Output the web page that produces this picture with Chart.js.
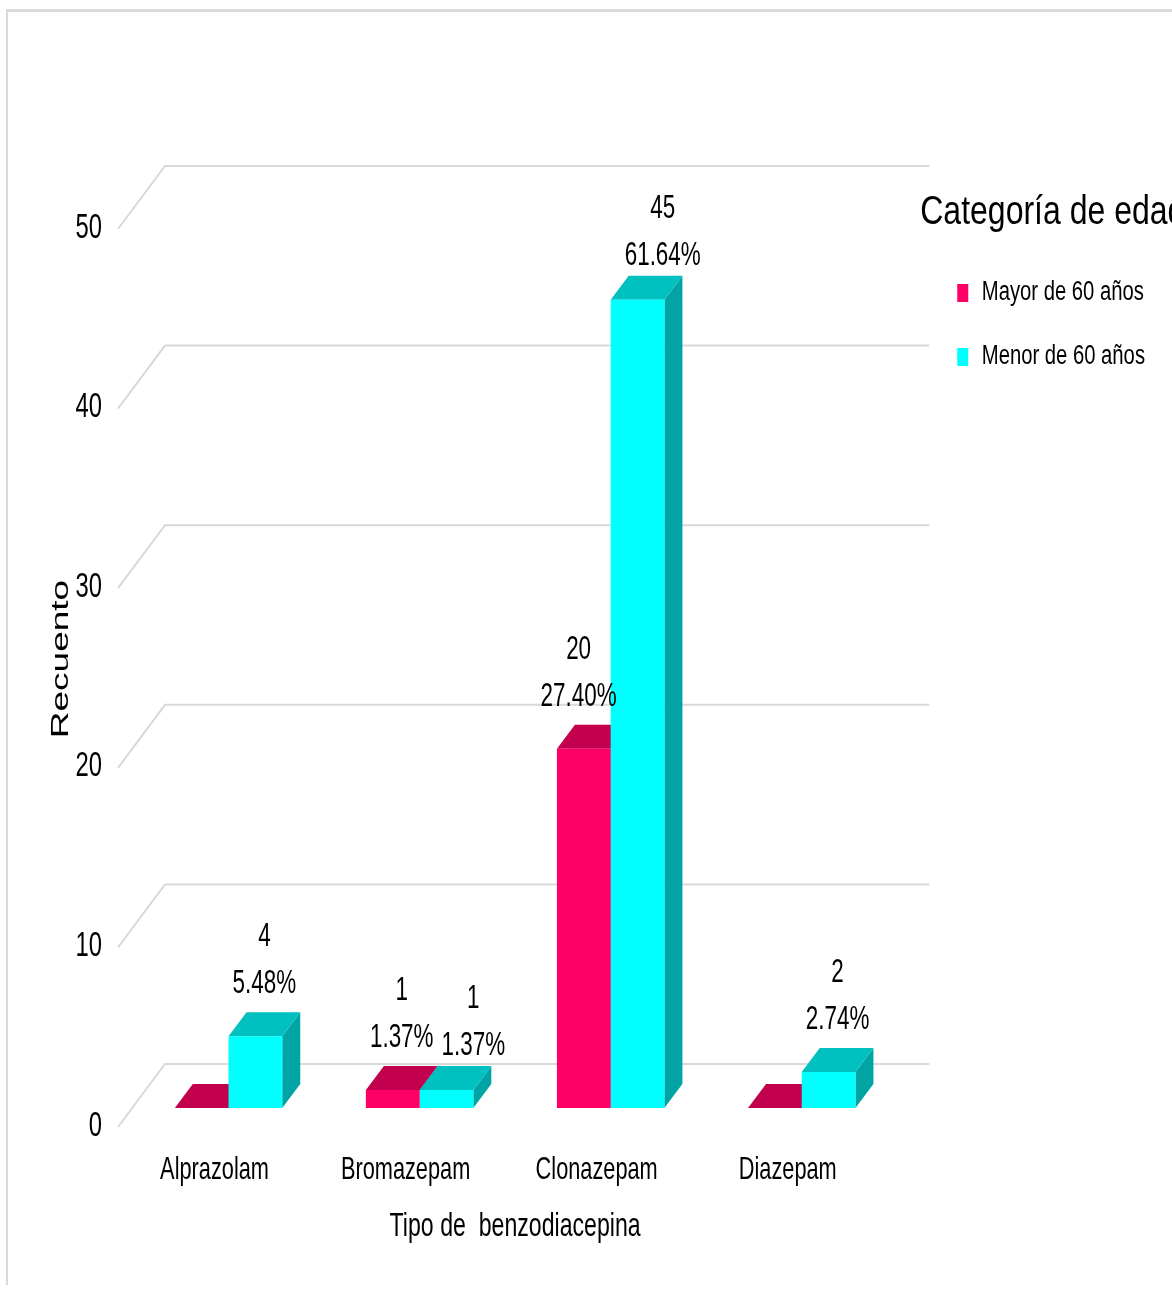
<!DOCTYPE html>
<html><head><meta charset="utf-8">
<script src="https://cdn.jsdelivr.net/npm/chart.js@4.4.1/dist/chart.umd.min.js"></script>
<style>
html,body{margin:0;padding:0;background:#fff;overflow:hidden}
#wrap{position:relative;width:1172px;height:1293px}
#frame{position:absolute;left:6px;top:9px;right:-5px;bottom:8px;border-top:3px solid #dadada;border-left:2px solid #dadada}
canvas{position:absolute;left:0;top:0}
</style></head><body>
<div id="wrap"><div id="frame"></div><canvas id="c" width="1172" height="1293"></canvas></div>
<script>
// ---- data ----
const categories = ['Alprazolam', 'Bromazepam', 'Clonazepam', 'Diazepam'];
const seriesNames = ['Mayor de 60 años', 'Menor de 60 años'];
const mayor60 = [0, 1, 20, 0];
const menor60 = [4, 1, 45, 2];
const mayorPct = [null, '1.37%', '27.40%', null];
const menorPct = ['5.48%', '1.37%', '61.64%', '2.74%'];
const yTicks = [0, 10, 20, 30, 40, 50];

const FONT = "'Liberation Sans', Arial, sans-serif";
const DX = 18, DY = 24;          // bar depth
const WALL = {fx: -15, fy: 19, bx: 32, by: -44}; // wall offsets relative to bar plane

// The reference text is horizontally condensed: squeeze text in screen-x about its anchor.
const SQUEEZE = {40: 0.8, 37: 0.63, 27: 0.75};
const cv = document.getElementById('c');
const c2 = cv.getContext('2d');
const origFill = c2.fillText.bind(c2);
const origMeasure = c2.measureText.bind(c2);
function squeezeOf(ctx) {
  const m = /(\d+(?:\.\d+)?)px/.exec(ctx.font);
  const s = m ? Math.round(+m[1]) : 12;
  return SQUEEZE[s] || 0.68;
}
c2.fillText = function (text, x, y) {
  const k = squeezeOf(c2);
  const T = c2.getTransform();
  const px = T.a * x + T.c * y + T.e;
  c2.save();
  c2.setTransform(new DOMMatrix([k * T.a, T.b, k * T.c, T.d, k * T.e + (1 - k) * px, T.f]));
  origFill(text, x, y);
  c2.restore();
};
c2.measureText = function (text) {
  const m = origMeasure(text);
  const k = squeezeOf(c2);
  return {
    width: m.width * k,
    actualBoundingBoxAscent: m.actualBoundingBoxAscent,
    actualBoundingBoxDescent: m.actualBoundingBoxDescent,
    actualBoundingBoxLeft: m.actualBoundingBoxLeft * k,
    actualBoundingBoxRight: m.actualBoundingBoxRight * k
  };
};

const legendBox = {
  id: 'legendBox',
  afterLayout(chart) {
    const lg = chart.legend;
    lg.top -= 30;
    lg.right = chart.width;
    lg.width = lg.right - lg.left;
  }
};

const threeD = {
  id: 'threeD',
  beforeDatasetsDraw(chart) {
    const {ctx, chartArea: a, scales: {y}} = chart;
    ctx.save();
    // back wall grid lines with their diagonal to the front plane
    ctx.strokeStyle = '#d9d9d9';
    ctx.lineWidth = 2;
    yTicks.forEach(v => {
      const py = y.getPixelForValue(v);
      ctx.beginPath();
      ctx.moveTo(a.left + WALL.fx, py + WALL.fy);
      ctx.lineTo(a.left + WALL.bx, py + WALL.by);
      ctx.lineTo(a.right + WALL.bx, py + WALL.by);
      ctx.stroke();
    });
    // side and top faces of every bar (fronts are drawn by Chart.js afterwards)
    chart.data.datasets.forEach((ds, di) => {
      chart.getDatasetMeta(di).data.forEach(bar => {
        const {x, y: by, base, width} = bar.getProps(['x', 'y', 'base', 'width'], true);
        const l = x - width / 2, r = x + width / 2;
        ctx.fillStyle = ds.sideColor;
        ctx.beginPath();
        ctx.moveTo(r, base); ctx.lineTo(r + DX, base - DY);
        ctx.lineTo(r + DX, by - DY); ctx.lineTo(r, by);
        ctx.closePath(); ctx.fill();
        ctx.fillStyle = ds.topColor;
        ctx.beginPath();
        ctx.moveTo(l, by); ctx.lineTo(l + DX, by - DY);
        ctx.lineTo(r + DX, by - DY); ctx.lineTo(r, by);
        ctx.closePath(); ctx.fill();
      });
    });
    ctx.restore();
  },
  afterDatasetsDraw(chart) {
    const ctx = chart.ctx;
    const pcts = [mayorPct, menorPct];
    const vals = [mayor60, menor60];
    ctx.save();
    ctx.font = '33px ' + FONT;
    ctx.textAlign = 'center';
    ctx.textBaseline = 'middle';
    ctx.fillStyle = '#000';
    categories.forEach((c, i) => {
      let prevRight = -Infinity;
      [0, 1].forEach(d => {
        if (pcts[d][i] == null) return;
        const bar = chart.getDatasetMeta(d).data[i];
        let cx = bar.x + DX / 2;
        let y2 = bar.y - DY - 28, y1 = y2 - 47;
        const w = Math.max(ctx.measureText(pcts[d][i]).width, ctx.measureText(String(vals[d][i])).width);
        if (d === 0) {
          const nb = chart.getDatasetMeta(1).data[i];
          if (nb.y < y1) cx = Math.min(cx, nb.x - nb.width / 2 + 6 - w / 2);
        }
        if (cx - w / 2 < prevRight + 8) {
          cx += prevRight + 8 - (cx - w / 2);
          y1 += 8; y2 += 8;
        }
        ctx.fillText(String(vals[d][i]), cx, y1);
        ctx.fillText(pcts[d][i], cx, y2);
        prevRight = cx + w / 2;
      });
    });
    ctx.restore();
  }
};

new Chart(cv, {
  type: 'bar',
  data: {
    labels: categories,
    datasets: [
      {label: seriesNames[0], data: mayor60, backgroundColor: '#FF0066', topColor: '#C2004E', sideColor: '#A30042', borderWidth: 0},
      {label: seriesNames[1], data: menor60, backgroundColor: '#00FFFF', topColor: '#00C0C0', sideColor: '#00A4A4', borderWidth: 0}
    ]
  },
  plugins: [threeD, legendBox],
  options: {
    responsive: false,
    maintainAspectRatio: false,
    devicePixelRatio: 1,
    animation: false,
    categoryPercentage: 0.5625,
    barPercentage: 1,
    layout: {padding: {top: 210, left: 0, right: 17, bottom: 0}},
    plugins: {
      tooltip: {enabled: false},
      legend: {
        position: 'right',
        align: 'start',
        maxWidth: 320,
        title: {display: true, text: 'Categoría de edad', position: 'start', color: '#000',
          font: {family: FONT, size: 40, weight: 'normal'}, padding: {top: 13, bottom: 1.5}},
        labels: {boxWidth: 11, boxHeight: 18, padding: 37, color: '#000',
          font: {family: FONT, size: 27, weight: 'normal'}}
      }
    },
    scales: {
      x: {
        grid: {display: false, drawTicks: false},
        border: {display: false},
        ticks: {color: '#000', font: {family: FONT, size: 32}, padding: 43, labelOffset: -14},
        title: {display: true, text: 'Tipo de  benzodiacepina', color: '#000',
          font: {family: FONT, size: 34}, padding: {top: 0, bottom: 46}},
        afterFit(s) { s.height = 185; }
      },
      y: {
        min: 0, max: 50,
        grid: {display: false, drawTicks: false},
        border: {display: false},
        ticks: {stepSize: 10, color: '#000', font: {family: FONT, size: 35}, padding: 31, labelOffset: 18},
        title: {display: true, text: 'Recuento', color: '#000',
          font: {family: FONT, size: 37}, padding: {top: 39, bottom: 0}},
        afterFit(s) { s.width = 133; }
      },
      spacer: {
        type: 'linear', position: 'right', display: true,
        grid: {display: false, drawTicks: false}, border: {display: false},
        ticks: {display: false},
        afterFit(s) { s.width = 23; }
      }
    }
  }
});
</script>
</body></html>
